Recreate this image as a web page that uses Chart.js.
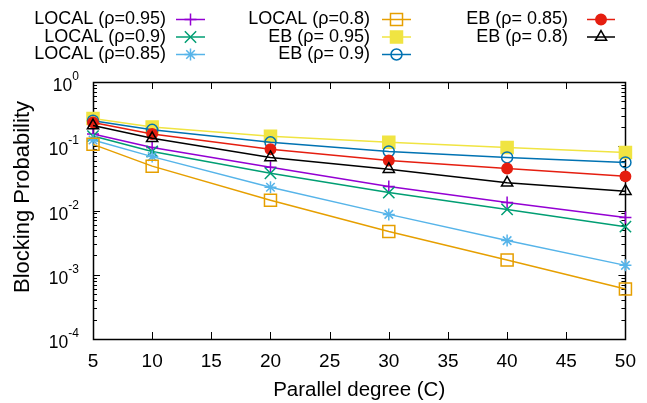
<!DOCTYPE html>
<html>
<head>
<meta charset="utf-8">
<script src="https://cdn.jsdelivr.net/npm/chart.js@4.4.1/dist/chart.umd.min.js"></script>
<style>
  html, body { margin: 0; padding: 0; background: #fff; }
  #wrap { width: 647px; height: 403px; }
</style>
</head>
<body>
<div id="wrap"><canvas id="blocking" width="647" height="403"></canvas></div>
<script>
// parallel degree C on the x axis
let degrees = [5, 10, 20, 30, 40, 50]

// blocking probability per curve
let local95 = [0.155, 0.096, 0.047, 0.0237, 0.0133, 0.0078]
let local90 = [0.144, 0.083, 0.038, 0.019, 0.0104, 0.0056]
let local85 = [0.125, 0.069, 0.023, 0.0087, 0.0034, 0.0014]
let local80 = [0.107, 0.049, 0.0144, 0.0047, 0.0017, 0.0006]
let eb95 = [0.27, 0.2, 0.143, 0.115, 0.096, 0.08]
let eb90 = [0.25, 0.18, 0.115, 0.083, 0.067, 0.056]
let eb85 = [0.235, 0.155, 0.09, 0.06, 0.045, 0.034]
let eb80 = [0.21, 0.133, 0.067, 0.044, 0.027, 0.02]

let seriesNames = ['LOCAL (\u03c1=0.95)', 'LOCAL (\u03c1=0.9)', 'LOCAL (\u03c1=0.85)', 'LOCAL (\u03c1=0.8)',
  'EB (\u03c1= 0.95)', 'EB (\u03c1= 0.9)', 'EB (\u03c1= 0.85)', 'EB (\u03c1= 0.8)']
let seriesValues = [local95, local90, local85, local80, eb95, eb90, eb85, eb80]
let xTicks = [5, 10, 15, 20, 25, 30, 35, 40, 45, 50]
let yDecades = [0, -1, -2, -3, -4]
let yTitle = 'Blocking Probability'

// gnuplot look: colour, marker, marker size, filled or not
let colors = ['#9400d3', '#009e73', '#56b4e9', '#e69f00', '#f0e442', '#0072b2', '#e51e10', '#000000']
let markers = ['cross', 'crossRot', 'star', 'rect', 'rect', 'circle', 'circle', 'triangle']
let markerSize = [6, 8, 6, 8.5, 8.5, 5.5, 5.2, 6.5]
let filled = [false, false, false, false, true, false, true, false]

let FONT = '"Liberation Sans", Arial, Helvetica, sans-serif'

let datasets = seriesNames.map(function (name, i) {
  return {
    label: name,
    data: degrees.map(function (c, j) { return { x: c, y: seriesValues[i][j] } }),
    borderColor: colors[i],
    backgroundColor: filled[i] ? colors[i] : 'rgba(0,0,0,0)',
    pointBorderColor: colors[i],
    pointBackgroundColor: filled[i] ? colors[i] : 'rgba(0,0,0,0)',
    borderWidth: 1.5,
    pointBorderWidth: 1.5,
    pointStyle: markers[i],
    pointRadius: markerSize[i],
    pointHoverRadius: markerSize[i],
    tension: 0,
    clip: false,
    order: 10 - i // later curves on top, like gnuplot
  }
})

// frame, inward ticks, 10^n labels and y title, placed with the chart's own scales
let frameAndTicks = {
  id: 'frameAndTicks',
  beforeDatasetsDraw: function (chart) {
    let ctx = chart.ctx
    let a = chart.chartArea
    let xs = chart.scales.x
    let ys = chart.scales.y
    ctx.save()
    ctx.strokeStyle = '#000'
    ctx.lineWidth = 1
    ctx.beginPath()
    xTicks.forEach(function (t) {
      let px = Math.round(xs.getPixelForValue(t)) + 0.5
      ctx.moveTo(px, a.bottom); ctx.lineTo(px, a.bottom - 7)
      ctx.moveTo(px, a.top); ctx.lineTo(px, a.top + 7)
    })
    yDecades.forEach(function (d) {
      for (let m = 1; m <= 9; m++) {
        let v = m * Math.pow(10, d)
        if (v > 1.0001 || v < 0.99e-4) continue
        let py = Math.round(ys.getPixelForValue(v)) + 0.5
        let len = m === 1 ? 7 : 4
        ctx.moveTo(a.left, py); ctx.lineTo(a.left + len, py)
        ctx.moveTo(a.right, py); ctx.lineTo(a.right - len, py)
      }
    })
    ctx.stroke()
    ctx.lineWidth = 1.5
    ctx.strokeRect(Math.round(a.left) + 0.5, Math.round(a.top) + 0.5, Math.round(a.right - a.left), Math.round(a.bottom - a.top))

    // y labels with superscript exponents
    ctx.fillStyle = '#000'
    ctx.textBaseline = 'alphabetic'
    yDecades.forEach(function (d) {
      let py = ys.getPixelForValue(Math.pow(10, d))
      let exp = String(d)
      ctx.font = '12px ' + FONT
      let ew = ctx.measureText(exp).width
      let right = 79
      ctx.textAlign = 'left'
      ctx.fillText(exp, right - ew, py - 2)
      ctx.font = '17.5px ' + FONT
      ctx.textAlign = 'right'
      ctx.fillText('10', right - ew, py + 9)
    })

    // y axis title
    ctx.save()
    ctx.translate(29, 197)
    ctx.rotate(-Math.PI / 2)
    ctx.font = '22px ' + FONT
    ctx.textAlign = 'center'
    ctx.fillText(yTitle, 0, 0)
    ctx.restore()
    ctx.restore()
  },
  afterDraw: function (chart) {
    // gnuplot style key: text right aligned, then line sample with marker
    let ctx = chart.ctx
    let cols = [{ textRight: 166, x0: 176, x1: 205 }, { textRight: 370, x0: 382, x1: 411 }, { textRight: 568, x0: 587, x1: 615 }]
    let rows = [19.5, 37, 54.5]
    ctx.save()
    chart.data.datasets.forEach(function (ds, i) {
      let col = cols[Math.floor(i / 3)]
      let y = rows[i % 3]
      ctx.font = '18px ' + FONT
      ctx.fillStyle = '#000'
      ctx.textAlign = 'right'
      ctx.textBaseline = 'alphabetic'
      ctx.fillText(ds.label, col.textRight, y + 4.5)
      ctx.strokeStyle = ds.borderColor
      ctx.lineWidth = 1.5
      ctx.beginPath()
      ctx.moveTo(col.x0, y); ctx.lineTo(col.x1, y)
      ctx.stroke()
      ctx.fillStyle = ds.pointBackgroundColor
      ctx.strokeStyle = ds.pointBorderColor
      Chart.helpers.drawPoint(ctx, {
        pointStyle: ds.pointStyle, radius: ds.pointRadius, rotation: 0, borderWidth: 1.5
      }, (col.x0 + col.x1) / 2, y)
    })
    ctx.restore()
  }
}

let chart = new Chart(document.getElementById('blocking').getContext('2d'), {
  type: 'line',
  data: { datasets: datasets },
  options: {
    responsive: false,
    animation: false,
    events: [],
    layout: { padding: { top: 82, right: 20, left: 0, bottom: 0 } },
    plugins: { legend: { display: false }, tooltip: { enabled: false } },
    scales: {
      x: {
        type: 'linear',
        min: 5,
        max: 50,
        afterBuildTicks: function (s) { s.ticks = xTicks.map(function (v) { return { value: v } }) },
        afterFit: function (s) { s.height = 64 },
        grid: { display: false, drawTicks: false },
        border: { display: false },
        ticks: { color: '#000', font: { family: FONT, size: 19 }, padding: 11, maxRotation: 0, autoSkip: false },
        title: { display: true, text: 'Parallel degree (C)', color: '#000', font: { family: FONT, size: 20.5 }, padding: { top: 0, bottom: 0 } }
      },
      y: {
        type: 'logarithmic',
        min: 0.0001,
        max: 1,
        afterFit: function (s) { s.width = 93 },
        grid: { display: false, drawTicks: false },
        border: { display: false },
        ticks: { display: false }
      }
    }
  },
  plugins: [frameAndTicks]
})
</script>
</body>
</html>
